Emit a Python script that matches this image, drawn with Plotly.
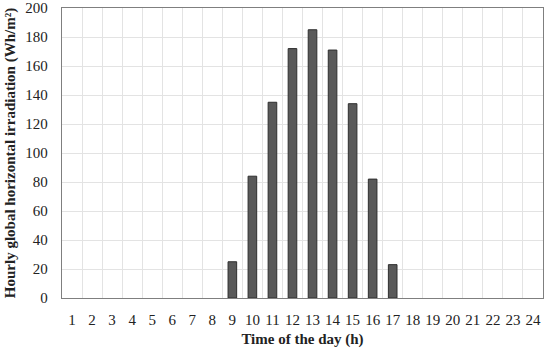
import plotly.graph_objects as go

hours = list(range(1, 25))
irradiation = [0, 0, 0, 0, 0, 0, 0, 0, 25, 84, 135, 172, 185, 171, 134, 82, 23, 0, 0, 0, 0, 0, 0, 0]
y_ticks = [0, 20, 40, 60, 80, 100, 120, 140, 160, 180, 200]

FONT = "Liberation Serif"

fig = go.Figure()
fig.add_trace(go.Bar(
    x=hours, y=irradiation,
    marker=dict(color="#595959",
                line=dict(color="#2e2e2e", width=[1 if v > 0 else 0 for v in irradiation])),
    width=0.43,
    hoverinfo="skip",
))

fig.update_layout(
    width=550, height=355,
    autosize=False,
    margin=dict(l=62, r=7, t=8, b=57, autoexpand=False),
    plot_bgcolor="white", paper_bgcolor="white",
    showlegend=False,
    font=dict(family=FONT, size=15, color="#222"),
    xaxis=dict(
        range=[0.5, 24.5],
        tickmode="array", tickvals=hours, ticktext=[str(h) for h in hours],
        showgrid=False,
        minor=dict(tick0=0.5, dtick=1, showgrid=True, gridcolor="#e3e3e3", gridwidth=1),
        showline=True, linecolor="#7f7f7f", linewidth=1.3, mirror=True,
        ticks="outside", ticklen=8, tickcolor="rgba(0,0,0,0)",
        title=dict(text="<b>Time of the day (h)</b>", font=dict(family=FONT, size=15), standoff=6),
        zeroline=False, automargin=False,
    ),
    yaxis=dict(
        range=[0, 200],
        tickmode="array", tickvals=y_ticks,
        showgrid=True, gridcolor="#e3e3e3", gridwidth=1,
        showline=True, linecolor="#7f7f7f", linewidth=1.3, mirror=True,
        ticks="outside", ticklen=10, tickcolor="rgba(0,0,0,0)",
        title=dict(text="<b>Hourly global horizontal irradiation (Wh/m²)</b>", font=dict(family=FONT, size=15), standoff=6),
        zeroline=False, automargin=False,
    ),
)

fig.write_html("out.html", config={"displayModeBar": False},
               post_script="document.body.style.margin='0';")
